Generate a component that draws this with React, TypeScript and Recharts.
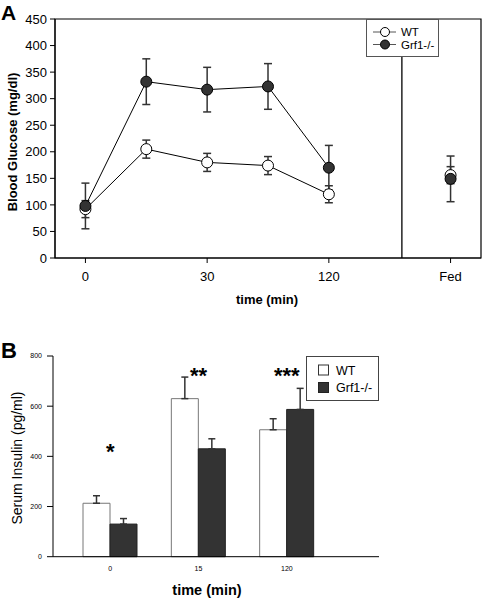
import React from 'react';
import {
  ComposedChart,
  Line,
  XAxis,
  YAxis,
  ErrorBar,
  ReferenceLine,
  ReferenceArea,
  Legend,
  BarChart,
  Bar,
  ReferenceDot,
  Label,
} from 'recharts';

const FONT = '"Liberation Sans", Arial, Helvetica, sans-serif';

// ---------- Panel A: blood glucose ----------
const glucoseTimes = ['0', '15', '30', '60', '120'];
const glucoseWT = [92, 205, 180, 174, 120];
const glucoseWTErr = [16, 17, 17, 17, 16];
const glucoseKO = [98, 332, 317, 323, 170];
const glucoseKOErr = [43, 43, 42, 43, 42];
const fedLabel = 'Fed';
const fedWT = 156;
const fedWTErr = 16;
const fedKO = 149;
const fedKOErr = 43;
const glucoseYTicks = [0, 50, 100, 150, 200, 250, 300, 350, 400, 450];
const glucoseXTickIndex = [0, 2, 4, 6];
const glucoseXTickLabels = ['0', '30', '120', 'Fed'];

// ---------- Panel B: serum insulin ----------
const insulinTimes = ['0', '15', '120'];
const insulinWT = [213, 630, 506];
const insulinWTErr = [30, 86, 44];
const insulinKO = [130, 430, 587];
const insulinKOErr = [22, 40, 84];
const significance = ['*', '**', '***'];
const significanceHeight = [419, 723, 723];
const insulinYTicks = [0, 200, 400, 600, 800];

const fedIndex = glucoseTimes.length + 1;

const wtSeries = glucoseTimes.map((t, i) => ({ x: i, time: t, y: glucoseWT[i], err: glucoseWTErr[i] }));
const koSeries = glucoseTimes.map((t, i) => ({ x: i, time: t, y: glucoseKO[i], err: glucoseKOErr[i] }));
const wtFed = [{ x: fedIndex, time: fedLabel, y: fedWT, err: fedWTErr }];
const koFed = [{ x: fedIndex, time: fedLabel, y: fedKO, err: fedKOErr }];

const insulinData = insulinTimes.map((t, i) => ({
  time: t,
  wt: insulinWT[i],
  wtErr: [0, insulinWTErr[i]],
  ko: insulinKO[i],
  koErr: [0, insulinKOErr[i]],
}));

const tickLabelA = (v: number) => {
  const idx = glucoseXTickIndex.indexOf(v);
  return idx >= 0 ? glucoseXTickLabels[idx] : '';
};

const LegendA = () => (
  <svg width={73} height={38} style={{ display: 'block' }}>
    <rect x={0.5} y={0.5} width={72} height={37} fill="#fff" stroke="#555" />
    <line x1={7} x2={30} y1={13} y2={13} stroke="#555" strokeWidth={1} />
    <circle cx={19} cy={13} r={4.5} fill="#fff" stroke="#000" />
    <text x={35} y={17} fontSize={11.5} fontFamily={FONT} fill="#000">WT</text>
    <line x1={7} x2={30} y1={25.5} y2={25.5} stroke="#555" strokeWidth={1} />
    <circle cx={19} cy={25.5} r={4.5} fill="#333" stroke="#000" />
    <text x={35} y={29.5} fontSize={11.5} fontFamily={FONT} fill="#000">Grf1-/-</text>
  </svg>
);

const LegendB = () => (
  <svg width={73} height={45} style={{ display: 'block' }}>
    <rect x={0.5} y={0.5} width={72} height={44} fill="#fff" stroke="#444" />
    <rect x={12.5} y={9} width={10} height={10} fill="#fff" stroke="#333" />
    <text x={30} y={18.5} fontSize={12.5} fontFamily={FONT} fill="#000">WT</text>
    <rect x={12.5} y={26.5} width={10} height={10} fill="#333" stroke="#222" />
    <text x={30} y={36} fontSize={12.5} fontFamily={FONT} fill="#000">Grf1-/-</text>
  </svg>
);

const AxisTitlesA = () => (
  <g>
    <text x={1} y={20} fontSize={21} fontWeight="bold" fontFamily={FONT} fill="#000">A</text>
    <text
      x={12}
      y={142}
      transform="rotate(-90 12 142)"
      textAnchor="middle"
      dominantBaseline="central"
      fontSize={13}
      fontWeight="bold"
      fontFamily={FONT}
      fill="#000"
    >
      Blood Glucose (mg/dl)
    </text>
  </g>
);

const XTitleA = () => (
  <text x={267} y={304} textAnchor="middle" fontSize={13} fontWeight="bold" fontFamily={FONT} fill="#000">
    time (min)
  </text>
);

const AxisTitlesB = () => (
  <g>
    <text x={1} y={28} fontSize={22} fontWeight="bold" fontFamily={FONT} fill="#000">B</text>
    <text
      x={17}
      y={128}
      transform="rotate(-90 17 128)"
      textAnchor="middle"
      dominantBaseline="central"
      fontSize={14}
      fontFamily={FONT}
      fill="#000"
    >
      Serum Insulin (pg/ml)
    </text>
  </g>
);

const XTitleB = () => (
  <text x={207} y={265} textAnchor="middle" fontSize={14.5} fontWeight="bold" fontFamily={FONT} fill="#000">
    time (min)
  </text>
);

export default function App() {
  return (
    <div
      style={{
        position: 'absolute',
        left: 0,
        top: 0,
        width: 484,
        height: 601,
        background: '#fff',
        fontFamily: FONT,
        overflow: 'hidden',
      }}
    >
      <div style={{ position: 'absolute', left: 0, top: 0 }}>
        <ComposedChart width={484} height={310} margin={{ top: 19, right: 3, left: 0, bottom: 0 }}>
          <XAxis
            type="number"
            dataKey="x"
            domain={[-0.5, 6.5]}
            ticks={glucoseXTickIndex}
            tickFormatter={tickLabelA}
            allowDataOverflow
            height={52}
            tickSize={5}
            tickMargin={9}
            stroke="#000"
            tick={{ fontSize: 13, fill: '#000', fontFamily: FONT }}
          >
            <Label content={<XTitleA />} />
          </XAxis>
          <YAxis
            type="number"
            domain={[0, 450]}
            ticks={glucoseYTicks}
            width={55}
            tickSize={5}
            tickMargin={3}
            stroke="#000"
            interval={0}
            tick={{ fontSize: 13, fill: '#000', fontFamily: FONT }}
          >
            <Label content={<AxisTitlesA />} />
          </YAxis>
          <ReferenceArea x1={-0.5} x2={6.5} y1={0} y2={450} fill="none" fillOpacity={0} stroke="#000" strokeWidth={1.2} />
          <ReferenceLine x={5.2} stroke="#000" strokeWidth={1.3} />
          <Line
            data={wtSeries}
            dataKey="y"
            name="WT"
            stroke="#000"
            strokeWidth={1}
            dot={{ r: 5.5, fill: '#fff', stroke: '#000', strokeWidth: 1 }}
            isAnimationActive={false}
          >
            <ErrorBar dataKey="err" direction="y" width={4} stroke="#333" strokeWidth={1.5} />
          </Line>
          <Line
            data={koSeries}
            dataKey="y"
            name="Grf1-/-"
            stroke="#000"
            strokeWidth={1}
            dot={{ r: 5.5, fill: '#333', stroke: '#000', strokeWidth: 1 }}
            isAnimationActive={false}
          >
            <ErrorBar dataKey="err" direction="y" width={4} stroke="#333" strokeWidth={1.5} />
          </Line>
          <Line
            data={wtFed}
            dataKey="y"
            name="WT fed"
            stroke="#000"
            dot={{ r: 5.5, fill: '#fff', stroke: '#000', strokeWidth: 1 }}
            legendType="none"
            isAnimationActive={false}
          >
            <ErrorBar dataKey="err" direction="y" width={4} stroke="#333" strokeWidth={1.5} />
          </Line>
          <Line
            data={koFed}
            dataKey="y"
            name="Grf1 fed"
            stroke="#000"
            dot={{ r: 5.5, fill: '#333', stroke: '#000', strokeWidth: 1 }}
            legendType="none"
            isAnimationActive={false}
          >
            <ErrorBar dataKey="err" direction="y" width={4} stroke="#333" strokeWidth={1.5} />
          </Line>
          <Legend
            layout="vertical"
            align="center"
            verticalAlign="middle"
            content={<LegendA />}
            wrapperStyle={{ position: 'absolute', left: 366, top: 19, width: 73, height: 38, margin: 0 }}
          />
        </ComposedChart>
      </div>

      <div style={{ position: 'absolute', left: 0, top: 330 }}>
        <BarChart
          width={484}
          height={271}
          data={insulinData}
          margin={{ top: 26, right: 105, left: 0, bottom: 0 }}
          barGap={0}
          barSize={27}
        >
          <XAxis
            dataKey="time"
            padding={{ left: 13, right: 48 }}
            height={44.3}
            tickLine={false}
            tickSize={0}
            tickMargin={9}
            stroke="#000"
            tick={{ fontSize: 7, fill: '#000', fontFamily: FONT }}
          >
            <Label content={<XTitleB />} />
          </XAxis>
          <XAxis
            xAxisId="top"
            orientation="top"
            dataKey="time"
            padding={{ left: 13, right: 48 }}
            height={0}
            tick={false}
            tickLine={false}
            stroke="#000"
          />
          <YAxis
            domain={[0, 800]}
            ticks={insulinYTicks}
            width={53}
            tickSize={6}
            tickMargin={5}
            stroke="#000"
            interval={0}
            tick={{ fontSize: 7, fill: '#000', fontFamily: FONT }}
          >
            <Label content={<AxisTitlesB />} />
          </YAxis>
          <YAxis yAxisId="right" orientation="right" width={0} domain={[0, 1]} tick={false} tickLine={false} stroke="#000" />
          <Bar dataKey="wt" name="WT" fill="#fff" stroke="#777" strokeWidth={1} isAnimationActive={false}>
            <ErrorBar dataKey="wtErr" direction="y" width={3.5} stroke="#333" strokeWidth={1.5} />
          </Bar>
          <Bar dataKey="ko" name="Grf1-/-" fill="#333" stroke="#222" strokeWidth={1} isAnimationActive={false}>
            <ErrorBar dataKey="koErr" direction="y" width={3.5} stroke="#333" strokeWidth={1.5} />
          </Bar>
          {insulinTimes.map((t, i) => (
            <ReferenceDot
              key={t}
              x={t}
              y={significanceHeight[i]}
              r={0}
              fill="none"
              stroke="none"
              label={{
                value: significance[i],
                position: 'center',
                fontSize: 22,
                fontWeight: 'bold',
                fill: '#000',
                fontFamily: FONT,
              }}
            />
          ))}
          <Legend
            layout="vertical"
            align="center"
            verticalAlign="middle"
            content={<LegendB />}
            wrapperStyle={{ position: 'absolute', left: 306, top: 26, width: 73, height: 45, margin: 0 }}
          />
        </BarChart>
      </div>
    </div>
  );
}
